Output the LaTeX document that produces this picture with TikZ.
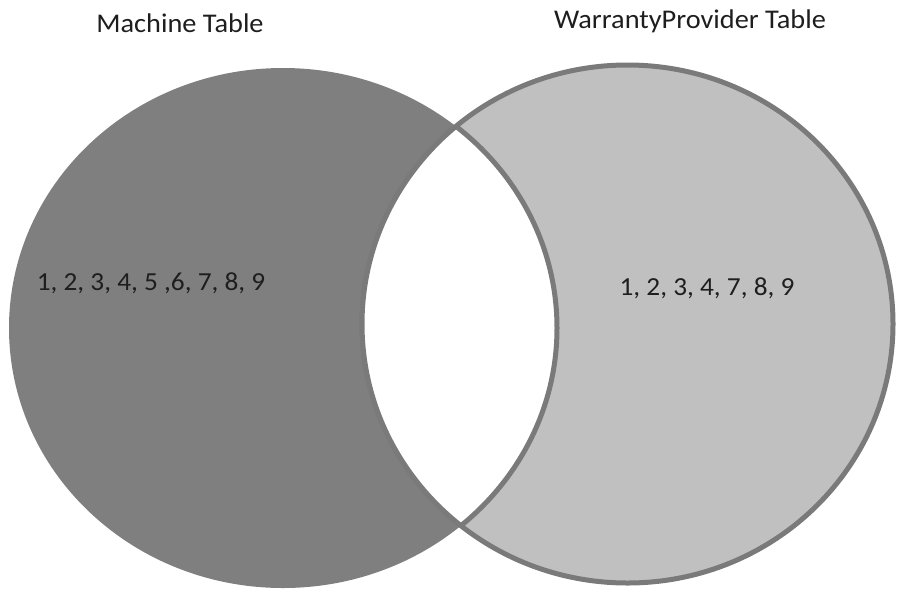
\documentclass[tikz,border=0pt]{standalone}
\usepackage{fontspec}
\setmainfont{Carlito}[FakeStretch=1.05]
\definecolor{darkfill}{HTML}{7F7F7F}
\definecolor{lightfill}{HTML}{C0C0C0}
\definecolor{rimgray}{HTML}{7A7A7A}
\definecolor{txt}{HTML}{1E1E1E}
\tikzset{
  titletext/.style={text=txt, inner sep=0pt, font=\fontsize{27}{30}\selectfont},
  settext/.style={text=txt, inner sep=0pt, font=\fontsize{26}{29}\selectfont},
  rim/.style={draw=rimgray, line width=5pt}
}
\begin{document}
\begin{tikzpicture}[x=1pt,y=-1pt]
\useasboundingbox (0,0) rectangle (897,590);
\def\leftset{(283,328) ellipse [x radius=274, y radius=260]}
\def\rightset{(627.5,324) ellipse [x radius=265.5, y radius=259]}
% left set
\fill[darkfill] \leftset;
% right set
\fill[lightfill] \rightset;
\draw[rim] \rightset;
% intersection (white lens)
\begin{scope}
  \clip \leftset;
  \fill[white] \rightset;
\end{scope}
% right edge of lens
\begin{scope}
  \clip \rightset;
  \draw[rim] \leftset;
\end{scope}
% left edge of lens
\begin{scope}
  \clip \leftset;
  \draw[rim] \rightset;
\end{scope}
\node[titletext] (title1) at (180,23) {Machine Table};
\node[titletext] (title2) at (690,21) {WarrantyProvider Table};
\node[settext] (set1) at (151,283) {1, 2, 3, 4, 5 ,6, 7, 8, 9};
\node[settext] (set2) at (707,288) {1, 2, 3, 4, 7, 8, 9};
\end{tikzpicture}
\end{document}
